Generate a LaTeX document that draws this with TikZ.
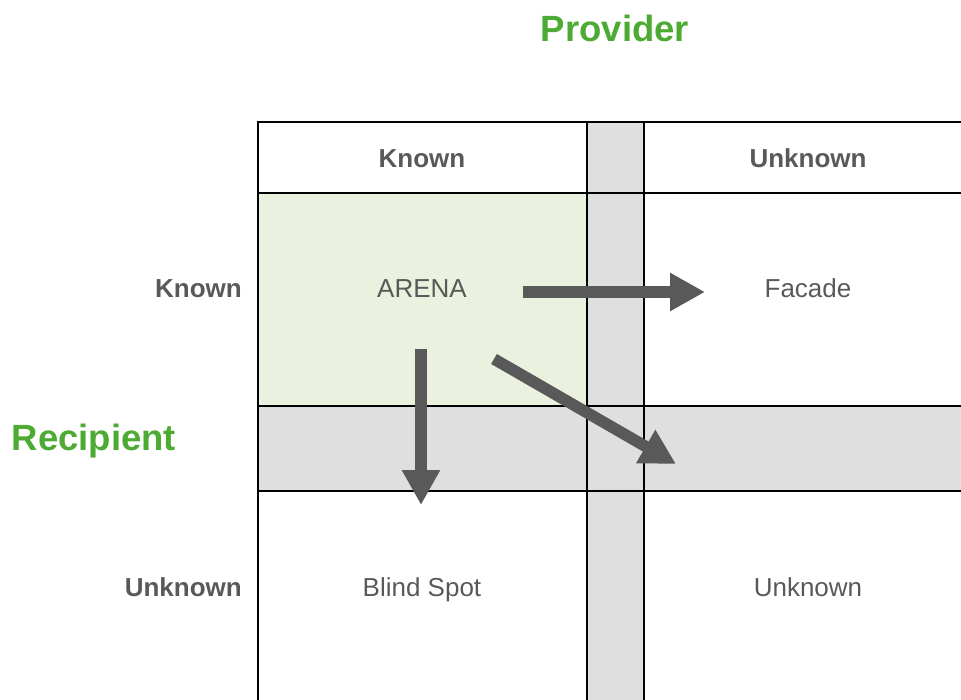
\documentclass[tikz,border=0pt]{standalone}
\usepackage{fontspec}
\setmainfont{Liberation Sans}
\usetikzlibrary{arrows.meta}
\definecolor{txtgray}{HTML}{595959}
\definecolor{bandgray}{HTML}{DFDFDF}
\definecolor{arenagreen}{HTML}{EAF1DE}
\definecolor{titlegreen}{HTML}{4DAA32}
\tikzset{
  gridline/.style={line width=2.4pt, black},
  cell/.style={font=\fontsize{26}{30}\selectfont, text=txtgray, inner sep=0pt,
    text height=18.6pt, text depth=0pt},
  head/.style={cell, font=\fontsize{26}{30}\selectfont\bfseries},
  title/.style={font=\fontsize{36.5}{42}\selectfont\bfseries, text=titlegreen, inner sep=0pt,
    text height=26.2pt, text depth=0pt},
  flow/.style={line width=11.5pt, txtgray, -{Triangle[length=35pt,width=36pt]}}
}
\begin{document}
\begin{tikzpicture}[x=1pt,y=-1pt]
\useasboundingbox (0,0) rectangle (961,700);
\clip (0,0) rectangle (961,700);
% shaded bands and the ARENA quadrant
\fill[arenagreen] (258,193) rectangle (587,406);
\fill[bandgray] (587,122) rectangle (644,700);
\fill[bandgray] (258,406) rectangle (961,491);
% grid
\draw[gridline] (258,122) -- (258,702);
\draw[gridline] (587,122) -- (587,702);
\draw[gridline] (644,122) -- (644,702);
\draw[gridline] (257,122) -- (963,122);
\draw[gridline] (258,193) -- (963,193);
\draw[gridline] (258,406) -- (963,406);
\draw[gridline] (258,491) -- (963,491);
% titles
\node[title] (provider) at (615,28) {Provider};
\node[title] (recipient) at (94,437) {Recipient};
% headers
\node[head] (hknown) at (422,158) {Known};
\node[head] (hunknown) at (808,158) {Unknown};
\node[head, anchor=east] (rknown) at (242,288) {Known};
\node[head, anchor=east] (runknown) at (242,587) {Unknown};
% quadrant labels
\node[cell] (arena) at (422,288) {ARENA};
\node[cell] (facade) at (808,288) {Facade};
\node[cell] (blind) at (422,587) {Blind Spot};
\node[cell] (unknown) at (808,587) {Unknown};
% arrow anchors
\coordinate (a1s) at (523,292);
\coordinate (a1e) at (705,292);
\coordinate (a2s) at (421,349);
\coordinate (a2e) at (421,505);
\coordinate (a3s) at (494,359);
\coordinate (a3e) at (676,464);
\draw[flow] (a1s) -- (a1e);
\draw[flow] (a2s) -- (a2e);
\draw[flow] (a3s) -- (a3e);
\end{tikzpicture}
\end{document}
